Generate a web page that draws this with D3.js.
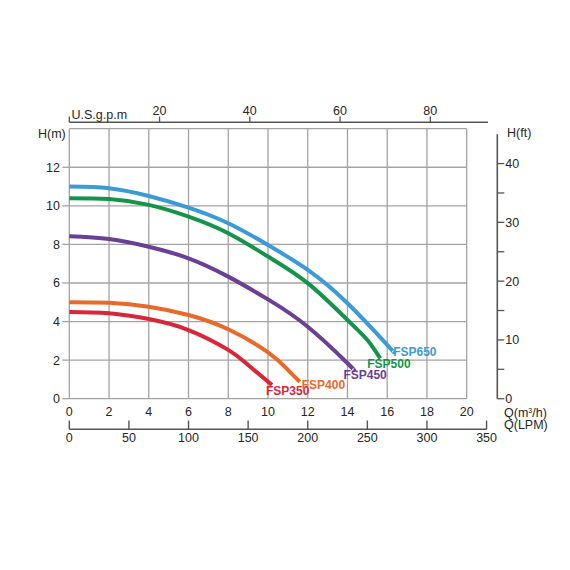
<!DOCTYPE html>
<html>
<head>
<meta charset="utf-8">
<script src="https://cdn.jsdelivr.net/npm/d3@7"></script>
<style>
  body { margin: 0; background: #fff; }
  text { font-family: "Liberation Sans", Arial, sans-serif; fill: #262626; }
</style>
</head>
<body>
<div id="chart"></div>
<script>
// Pump curves: flow Q in m3/h, head H in m
var models = ["FSP350", "FSP400", "FSP450", "FSP500", "FSP650"];
var flow350 = [0, 2, 4, 6, 8, 9, 10.2],
    head350 = [4.5, 4.43, 4.13, 3.56, 2.53, 1.75, 0.71];
var flow400 = [0, 2, 4, 6, 8, 10, 11, 11.6],
    head400 = [5.0, 4.97, 4.77, 4.34, 3.6, 2.4, 1.5, 0.88];
var flow450 = [0, 2, 4, 6, 8, 10, 12, 14, 14.3],
    head450 = [8.42, 8.28, 7.88, 7.28, 6.33, 5.15, 3.73, 1.84, 1.5];
var flow500 = [0, 2, 4, 6, 8, 10, 12, 14, 15, 15.65],
    head500 = [10.4, 10.35, 10.05, 9.44, 8.58, 7.37, 5.99, 4.08, 3.04, 2.09];
var flow650 = [0, 2, 4, 6, 8, 10, 12, 14, 16, 16.3],
    head650 = [11.0, 10.91, 10.51, 9.91, 9.1, 7.97, 6.68, 4.95, 2.79, 2.44];

// tick labels
var qTicks = [0, 2, 4, 6, 8, 10, 12, 14, 16, 18, 20],
    hTicks = [0, 2, 4, 6, 8, 10, 12],
    lpmTicks = [0, 50, 100, 150, 200, 250, 300, 350],
    gpmTicks = [20, 40, 60, 80],
    ftTicks = [0, 10, 20, 30, 40];

var colors = ["#d8263a", "#e9692b", "#6b3f93", "#149449", "#3b9bd7"];
var flows = [flow350, flow400, flow450, flow500, flow650],
    heads = [head350, head400, head450, head500, head650];
// label offset from the end of each curve
var labelDx = [-6, 2, -10, -13, 0],
    labelDy = [10, 7, 9.5, 9.5, 4];

var svg = d3.select("#chart").append("svg")
    .attr("width", 570)
    .attr("height", 570);

var x = d3.scaleLinear().domain([0, 20]).range([69.3, 466.7]),
    y = d3.scaleLinear().domain([0, 14]).range([398.7, 128.7]);
// secondary units
var xGpm = d3.scaleLinear().domain([0, 20 * 4.403]).range(x.range()),
    xLpm = d3.scaleLinear().domain([0, 20 * 16.667]).range(x.range()),
    yFt = d3.scaleLinear().domain([0, 14 * 3.281]).range(y.range());

var gridColor = "#a3a3a3", axisColor = "#555";

// grid
var grid = svg.append("g").attr("class", "grid");
grid.selectAll("line.v").data(d3.range(0, 21, 2)).enter().append("line")
    .attr("x1", function(d) { return x(d); })
    .attr("x2", function(d) { return x(d); })
    .attr("y1", y(0)).attr("y2", y(14))
    .style("stroke", gridColor).style("stroke-width", 1.3);
grid.selectAll("line.h").data(d3.range(0, 15, 2)).enter().append("line")
    .attr("x1", x(0)).attr("x2", x(20))
    .attr("y1", function(d) { return y(d); })
    .attr("y2", function(d) { return y(d); })
    .style("stroke", gridColor).style("stroke-width", 1.3);

// left axis H(m)
svg.selectAll("line.htick").data(hTicks).enter().append("line")
    .attr("x1", x(0) - 7).attr("x2", x(0))
    .attr("y1", function(d) { return y(d); })
    .attr("y2", function(d) { return y(d); })
    .style("stroke", gridColor).style("stroke-width", 1.3);
svg.selectAll("text.hlab").data(hTicks).enter().append("text")
    .attr("x", 60).attr("y", function(d) { return y(d) + 4.5; })
    .attr("text-anchor", "end").style("font-size", "12.5px")
    .text(function(d) { return d; });
svg.append("text").attr("x", 38).attr("y", 137.5)
    .style("font-size", "12.5px").text("H(m)");

// bottom labels Q(m3/h)
svg.selectAll("text.qlab").data(qTicks).enter().append("text")
    .attr("x", function(d) { return x(d); }).attr("y", 415.5)
    .attr("text-anchor", "middle").style("font-size", "12.5px")
    .text(function(d) { return d; });
var qLabel = svg.append("text").attr("x", 504).attr("y", 416.5).style("font-size", "12.5px");
qLabel.append("tspan").text("Q(m");
qLabel.append("tspan").attr("dy", -4).style("font-size", "7px").text("3");
qLabel.append("tspan").attr("dy", 4).text("/h)");

// LPM axis
svg.append("line")
    .attr("x1", xLpm(0)).attr("x2", xLpm(350))
    .attr("y1", 429.3).attr("y2", 429.3)
    .style("stroke", axisColor).style("stroke-width", 1.6);
svg.selectAll("line.lpmtick").data(lpmTicks).enter().append("line")
    .attr("x1", function(d) { return xLpm(d); })
    .attr("x2", function(d) { return xLpm(d); })
    .attr("y1", 420.5).attr("y2", 429.3)
    .style("stroke", axisColor).style("stroke-width", 1.4);
svg.selectAll("text.lpmlab").data(lpmTicks).enter().append("text")
    .attr("x", function(d) { return xLpm(d); }).attr("y", 442)
    .attr("text-anchor", "middle").style("font-size", "12.5px")
    .text(function(d) { return d; });
svg.append("text").attr("x", 504).attr("y", 429)
    .style("font-size", "12.5px").text("Q(LPM)");

// top axis U.S.g.p.m
svg.append("line")
    .attr("x1", xGpm(0)).attr("x2", 488)
    .attr("y1", 122.3).attr("y2", 122.3)
    .style("stroke", axisColor).style("stroke-width", 1.6);
svg.selectAll("line.gpmtick").data([0].concat(gpmTicks)).enter().append("line")
    .attr("x1", function(d) { return xGpm(d); })
    .attr("x2", function(d) { return xGpm(d); })
    .attr("y1", 116.5).attr("y2", 122.3)
    .style("stroke", axisColor).style("stroke-width", 1.3);
svg.selectAll("text.gpmlab").data(gpmTicks).enter().append("text")
    .attr("x", function(d) { return xGpm(d); }).attr("y", 115)
    .attr("text-anchor", "middle").style("font-size", "12.5px")
    .text(function(d) { return d; });
svg.append("text").attr("x", 71.5).attr("y", 119)
    .style("font-size", "12.5px").text("U.S.g.p.m");

// right axis H(ft)
var xFt = 497.3;
svg.append("line")
    .attr("x1", xFt).attr("x2", xFt)
    .attr("y1", yFt(0)).attr("y2", yFt(45))
    .style("stroke", axisColor).style("stroke-width", 1.6);
svg.selectAll("line.fttick").data(d3.range(0, 41, 5)).enter().append("line")
    .attr("x1", xFt).attr("x2", xFt + 7)
    .attr("y1", function(d) { return yFt(d); })
    .attr("y2", function(d) { return yFt(d); })
    .style("stroke", axisColor).style("stroke-width", 1.3);
svg.selectAll("text.ftlab").data(ftTicks).enter().append("text")
    .attr("x", xFt + 8).attr("y", function(d) { return yFt(d) + 4.5; })
    .style("font-size", "12.5px")
    .text(function(d) { return d; });
svg.append("text").attr("x", 507).attr("y", 136.5)
    .style("font-size", "12.5px").text("H(ft)");

// curves
var line = d3.line()
    .x(function(d) { return x(d[0]); })
    .y(function(d) { return y(d[1]); })
    .curve(d3.curveNatural);

var curves = svg.append("g").attr("class", "curves");
models.forEach(function(m, i) {
    var pts = d3.zip(flows[i], heads[i]);
    curves.append("path")
        .datum(pts)
        .attr("d", line)
        .style("fill", "none")
        .style("stroke", colors[i])
        .style("stroke-width", 4);
    var last = pts[pts.length - 1];
    curves.append("text")
        .attr("x", x(last[0]) + labelDx[i])
        .attr("y", y(last[1]) + labelDy[i])
        .style("font-size", "12px")
        .style("font-weight", "bold")
        .style("fill", colors[i])
        .text(m);
});
</script>
</body>
</html>
